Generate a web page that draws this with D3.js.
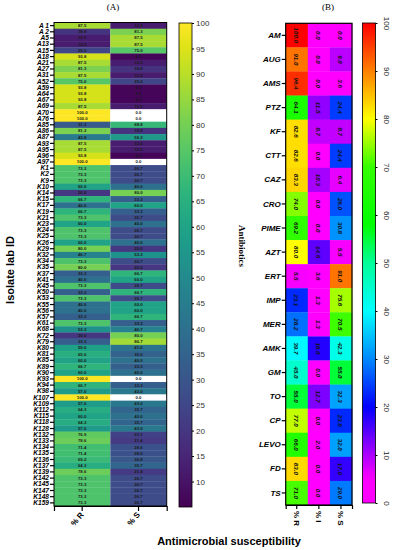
<!DOCTYPE html>
<html>
<head>
<meta charset="utf-8">
<script src="https://cdn.jsdelivr.net/npm/d3@7"></script>
<style>
  body { margin: 0; background: #fff; }
  svg text { font-family: Arial, "Liberation Sans", sans-serif; }
</style>
</head>
<body>
<div id="chart"></div>
<script>
// panel A data
const isolates = ['A 1','A 2','A5','A13','A15','A18','A21','A27','A31','A52','A59','A64','A67','A69','A70','A76','A85','A86','A87','A93','A95','A96','A97',
  'K1','K2','K9','K10','K14','K15','K17','K19','K21','K23','K24','K25','K26','K29','K32','K34','K35','K37','K41','K45','K50','K53','K55','K56','K57','K61','K68','K72','K79',
  'K80','K81','K85','K89','K90','K93','K94','K98','K107','K109','K112','K115','K118','K128','K132','K133','K134','K135','K136','K137','K139','K142','K145','K147','K148','K159'];
const pctR = [87.5,18.8,12.5,12.5,25.0,93.8,87.5,81.3,87.5,75.0,93.8,93.8,93.8,87.5,100.0,100.0,31.3,81.3,43.8,87.5,87.5,93.8,100.0,
  73.3,73.3,73.3,60.0,20.0,66.7,40.0,66.7,73.3,60.0,73.3,73.3,60.0,80.0,46.7,73.3,80.0,33.3,40.0,73.3,33.3,73.3,40.0,40.0,33.3,73.3,53.3,20.0,33.3,
  59.0,65.0,60.0,66.7,60.0,100.0,66.7,57.0,100.0,57.0,64.3,60.0,64.3,57.0,76.9,78.6,71.4,71.4,69.2,64.3,78.6,73.3,73.3,73.3,73.3,73.3];
const pctS = [12.5,81.3,87.5,87.5,75.0,6.3,12.5,18.8,12.5,25.0,6.3,6.3,6.3,12.5,0.0,0.0,68.8,18.8,56.3,12.5,12.5,6.3,0.0,
  26.7,26.7,26.7,40.0,80.0,33.3,60.0,33.3,26.7,40.0,26.7,26.7,40.0,20.0,53.3,26.7,20.0,66.7,60.0,26.7,66.7,26.7,60.0,60.0,66.7,33.3,46.7,80.0,86.7,
  41.0,35.0,40.0,33.3,40.0,0.0,33.3,43.0,0.0,43.0,35.7,40.0,35.7,43.0,23.1,21.4,28.6,28.6,30.8,35.7,21.4,26.7,26.7,26.7,26.7,26.7];
const colsA = ['% R', '% S'];
const ticksA = [10,15,20,25,30,35,40,45,50,55,60,65,70,75,80,85,90,95,100];

// panel B data
const antibiotics = ['AM','AUG','AMS','PTZ','KF','CTT','CAZ','CRO','PIME','AZT','ERT','IMP','MER','AMK','GM','TO','CP','LEVO','FD','TS'];
const abR = [100.0,91.0,96.4,64.1,82.6,82.6,83.3,74.0,69.2,80.0,5.5,23.1,28.2,39.7,45.0,55.0,77.0,66.0,83.0,71.0];
const abI = [0.0,0.0,0.0,11.5,8.7,0.0,10.3,0.0,0.0,14.5,3.6,1.3,1.3,18.0,0.0,12.7,0.0,2.0,0.0,0.0];
const abS = [0.0,9.0,3.6,24.4,8.7,24.4,6.4,26.0,30.8,5.5,91.0,75.6,70.5,42.3,55.0,32.3,23.0,32.0,17.0,29.0];
const colsB = ['% R', '% I', '% S'];
const ticksB = [0,10,20,30,40,50,60,70,80,90,100];

const W = 393, H = 550;
const svg = d3.select('#chart').append('svg').attr('width', W).attr('height', H);

// ---------- panel A ----------
const A = { left: 54, right: 166.7, top: 22.5, bottom: 506 };
const xA = d3.scaleBand().domain(colsA).range([A.left, A.right]);
const yA = d3.scaleBand().domain(isolates).range([A.top, A.bottom]);
const colorA = d3.scaleSequential(d3.interpolateViridis).domain([5, 100]);

const cellsA = [];
isolates.forEach((id, i) => {
  cellsA.push({ id, col: '% R', v: pctR[i] });
  cellsA.push({ id, col: '% S', v: pctS[i] });
});

const gA = svg.append('g');
gA.selectAll('rect.cell').data(cellsA).join('rect')
  .attr('x', d => xA(d.col)).attr('y', d => yA(d.id))
  .attr('width', xA.bandwidth()).attr('height', yA.bandwidth() + 0.3)
  .attr('fill', d => d.v < 5 ? '#fff' : colorA(d.v));
gA.selectAll('text.val').data(cellsA).join('text')
  .attr('x', d => xA(d.col) + xA.bandwidth() / 2)
  .attr('y', d => yA(d.id) + yA.bandwidth() / 2)
  .attr('text-anchor', 'middle').attr('dominant-baseline', 'central')
  .attr('font-size', 4.3).attr('font-weight', 'bold').attr('fill', '#1a1a1a')
  .text(d => d.v.toFixed(1));
gA.append('rect').attr('x', A.left).attr('y', A.top)
  .attr('width', A.right - A.left).attr('height', A.bottom - A.top)
  .attr('fill', 'none').attr('stroke', '#000').attr('stroke-width', 1);

const axA = gA.append('g').attr('transform', `translate(${A.left},0)`)
  .call(d3.axisLeft(yA).tickSize(4).tickPadding(1));
axA.select('.domain').remove();
axA.selectAll('line').attr('stroke-width', 1.2);
axA.selectAll('text').attr('font-size', 6.6).attr('font-weight', 'bold').attr('font-style', 'italic').attr('fill', '#000');

const axAx = gA.append('g').attr('transform', `translate(0,${A.bottom})`)
  .call(d3.axisBottom(xA).tickSize(5));
axAx.select('.domain').attr('stroke-width', 1.2);
axAx.selectAll('line').attr('stroke-width', 1.2);
axAx.selectAll('text').attr('font-size', 8).attr('font-weight', 'bold').attr('fill', '#000')
  .attr('text-anchor', 'end').attr('dy', null).attr('y', 0)
  .attr('transform', 'translate(2,9) rotate(-50)');

svg.append('text').attr('x', 113).attr('y', 10).attr('text-anchor', 'middle')
  .attr('font-size', 9).style('font-family', '"Liberation Serif", serif').text('(A)');

// colorbar A
const cbA = { x: 179, w: 13, top: 23, bottom: 507 };
const yCbA = d3.scaleLinear().domain([5, 100]).range([cbA.bottom, cbA.top]);
const defs = svg.append('defs');
const gradA = defs.append('linearGradient').attr('id', 'gradA')
  .attr('x1', 0).attr('y1', 1).attr('x2', 0).attr('y2', 0);
d3.range(0, 1.001, 0.05).forEach(t => {
  gradA.append('stop').attr('offset', t).attr('stop-color', colorA(5 + t * 95));
});
svg.append('rect').attr('x', cbA.x).attr('y', cbA.top).attr('width', cbA.w)
  .attr('height', cbA.bottom - cbA.top).attr('fill', 'url(#gradA)')
  .attr('stroke', '#000').attr('stroke-width', 0.8);
const axCbA = svg.append('g').attr('transform', `translate(${cbA.x + cbA.w},0)`)
  .call(d3.axisRight(yCbA).tickValues(ticksA).tickSize(2).tickPadding(2));
axCbA.select('.domain').remove();
axCbA.selectAll('text').attr('font-size', 8).attr('fill', '#333');

// axis titles
svg.append('text').attr('transform', 'translate(14,270) rotate(-90)')
  .attr('text-anchor', 'middle').attr('font-size', 11).attr('font-weight', 'bold')
  .text('Isolate lab ID');
svg.append('text').attr('x', 229).attr('y', 545).attr('text-anchor', 'middle')
  .attr('font-size', 11).attr('font-weight', 'bold').text('Antimicrobial susceptibility');

// ---------- panel B ----------
const B = { left: 285.7, right: 352, top: 23.3, bottom: 505 };
const xB = d3.scaleBand().domain(colsB).range([B.left, B.right]);
const yB = d3.scaleBand().domain(antibiotics).range([B.top, B.bottom]);
const colorB = d3.scaleLinear()
  .domain([0, 5, 12, 20, 30, 40, 50, 58, 70, 80, 90, 100])
  .range(['#ff00ff', '#ff00ff', '#8a00ff', '#0000ff', '#0088ff', '#00ffff', '#00ff99', '#00ff00', '#33ff00', '#ffff00', '#ff8000', '#ff0000'])
  .clamp(true);

const cellsB = [];
antibiotics.forEach((ab, i) => {
  cellsB.push({ ab, col: '% R', v: abR[i] });
  cellsB.push({ ab, col: '% I', v: abI[i] });
  cellsB.push({ ab, col: '% S', v: abS[i] });
});

const gB = svg.append('g');
gB.selectAll('rect.cell').data(cellsB).join('rect')
  .attr('x', d => xB(d.col)).attr('y', d => yB(d.ab))
  .attr('width', xB.bandwidth() + 0.3).attr('height', yB.bandwidth() + 0.3)
  .attr('fill', d => colorB(d.v));
gB.selectAll('text.val').data(cellsB).join('text')
  .attr('transform', d => `translate(${xB(d.col) + xB.bandwidth() / 2},${yB(d.ab) + yB.bandwidth() / 2}) rotate(90)`)
  .attr('text-anchor', 'middle').attr('dominant-baseline', 'central')
  .attr('font-size', 6.2).attr('font-weight', 'bold').attr('font-style', 'italic').attr('fill', '#111')
  .text(d => d.v.toFixed(1));
gB.append('rect').attr('x', B.left).attr('y', B.top)
  .attr('width', B.right - B.left).attr('height', B.bottom - B.top)
  .attr('fill', 'none').attr('stroke', '#000').attr('stroke-width', 1.2);

const axB = gB.append('g').attr('transform', `translate(${B.left},0)`)
  .call(d3.axisLeft(yB).tickSize(4).tickPadding(1));
axB.select('.domain').remove();
axB.selectAll('line').attr('stroke-width', 1.2);
axB.selectAll('text').attr('font-size', 8).attr('font-weight', 'bold').attr('font-style', 'italic').attr('fill', '#000');

const axBx = gB.append('g').attr('transform', `translate(0,${B.bottom})`)
  .call(d3.axisBottom(xB).tickSize(4));
axBx.select('.domain').attr('stroke-width', 1.2);
axBx.selectAll('line').attr('stroke-width', 1.2);
axBx.selectAll('text').attr('font-size', 8).attr('font-weight', 'bold').attr('fill', '#000')
  .attr('text-anchor', 'start').attr('dy', null).attr('y', 0).attr('dominant-baseline', 'central')
  .attr('transform', 'translate(0,6) rotate(90)');

svg.append('text').attr('x', 328).attr('y', 10).attr('text-anchor', 'middle')
  .attr('font-size', 9).style('font-family', '"Liberation Serif", serif').text('(B)');
svg.append('text').attr('transform', 'translate(242,246) rotate(90)')
  .attr('text-anchor', 'middle').attr('dominant-baseline', 'central')
  .attr('font-size', 9).attr('font-weight', 'bold')
  .style('font-family', '"Liberation Serif", serif').text('Antibiotics');

// colorbar B
const cbB = { x: 362.5, w: 13, top: 23, bottom: 503 };
const yCbB = d3.scaleLinear().domain([0, 100]).range([cbB.bottom, cbB.top]);
const gradB = defs.append('linearGradient').attr('id', 'gradB')
  .attr('x1', 0).attr('y1', 1).attr('x2', 0).attr('y2', 0);
d3.range(0, 1.001, 0.02).forEach(t => {
  gradB.append('stop').attr('offset', t).attr('stop-color', colorB(t * 100));
});
svg.append('rect').attr('x', cbB.x).attr('y', cbB.top).attr('width', cbB.w)
  .attr('height', cbB.bottom - cbB.top).attr('fill', 'url(#gradB)')
  .attr('stroke', '#000').attr('stroke-width', 0.8);
const axCbB = svg.append('g').attr('transform', `translate(${cbB.x + cbB.w},0)`)
  .call(d3.axisRight(yCbB).tickValues(ticksB).tickSize(2).tickPadding(0));
axCbB.select('.domain').remove();
axCbB.selectAll('text').attr('font-size', 8).attr('fill', '#222')
  .attr('x', 0).attr('dy', null).attr('text-anchor', 'middle').attr('dominant-baseline', 'central')
  .attr('transform', 'translate(11,0) rotate(90)');
</script>
</body>
</html>
